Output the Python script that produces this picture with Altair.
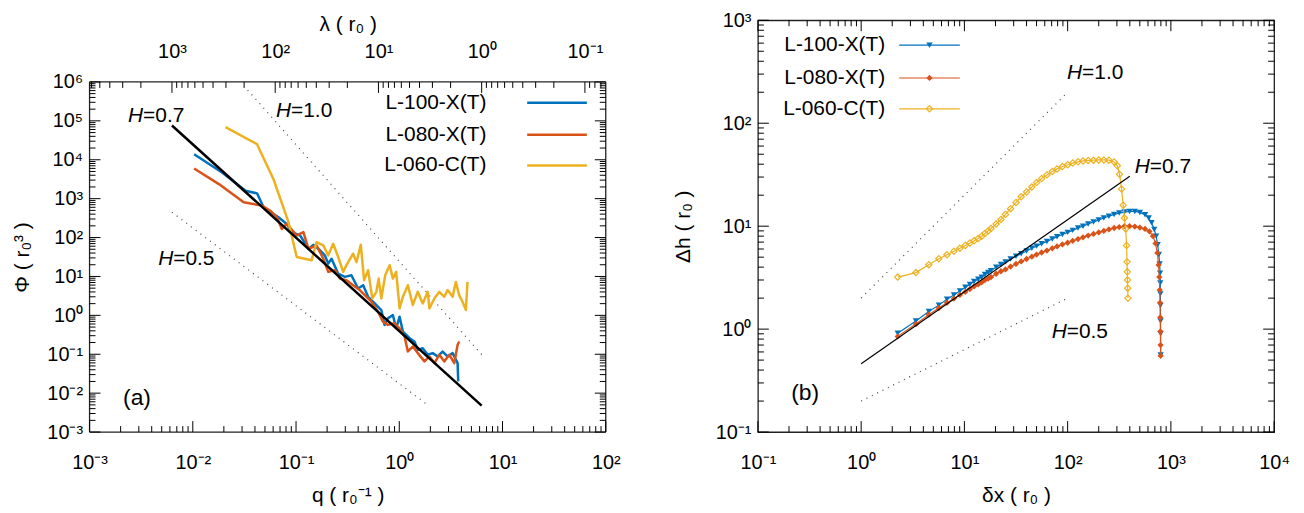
import altair as alt
import pandas as pd

FONT = "Liberation Sans"
BLUE, ORANGE, YELLOW = "#0072BD", "#D95319", "#EDB120"
NAMES = ["L-100-X(T)", "L-080-X(T)", "L-060-C(T)"]
COLORS = [BLUE, ORANGE, YELLOW]

# ---------------- panel (a): power spectral density ----------------
a_blue_q = [0.0103, 0.0192, 0.0324, 0.0419, 0.0485, 0.0676, 0.0813, 0.091, 0.1096, 0.132, 0.147, 0.171, 0.19,
            0.205, 0.221, 0.256, 0.297, 0.344, 0.399, 0.447, 0.499, 0.578, 0.67, 0.721, 0.776, 0.867, 0.933,
            1.007, 1.084, 1.259, 1.403, 1.51, 1.687, 1.888, 2.109, 2.355, 2.63, 2.938, 3.289, 3.673, 3.724]
a_blue_phi = [1.38e4, 4710, 1600, 1370, 600, 331, 224, 138, 113, 51, 65, 47, 35,
              21.4, 28.6, 11.8, 9.75, 10.7, 4.9, 5.97, 3.0, 2.02, 1.37, 0.568, 0.836, 1.02, 0.465,
              0.925, 0.382, 0.258, 0.212, 0.13, 0.143, 0.097, 0.107, 0.0877, 0.117, 0.0877, 0.107, 0.0592, 0.0201]

a_orange_q = [0.0103, 0.0179, 0.0311, 0.0468, 0.0562, 0.0652, 0.0728, 0.0813, 0.1016, 0.1178, 0.132, 0.158,
              0.1837, 0.205, 0.2377, 0.266, 0.308, 0.357, 0.414, 0.4634, 0.537, 0.622, 0.695, 0.776, 0.902,
              1.007, 1.125, 1.211, 1.352, 1.51, 1.754, 1.959, 2.188, 2.443, 2.729, 3.048, 3.412, 3.673, 3.81]
a_orange_phi = [5970, 2370, 805, 661, 490, 331, 166, 224, 113, 138, 51, 63,
                28.6, 13.1, 14.5, 8.81, 8.02, 5.97, 4.46, 3.31, 2.24, 1.24, 0.689, 0.568, 0.624,
                0.465, 0.285, 0.118, 0.158, 0.107, 0.0655, 0.0877, 0.0592, 0.097, 0.0655, 0.097, 0.0592, 0.175, 0.212]

a_yellow_q = [0.02075, 0.0419, 0.0605, 0.0845, 0.1016, 0.1416, 0.158, 0.1837, 0.205, 0.229, 0.256, 0.286,
              0.308, 0.357, 0.385, 0.424, 0.456, 0.499, 0.548, 0.6, 0.631, 0.67, 0.731, 0.807, 0.867, 0.933,
              1.007, 1.084, 1.211, 1.352, 1.51, 1.687, 1.888, 1.959, 2.188, 2.443, 2.729, 2.938, 3.289, 3.532,
              3.802, 4.1, 4.416, 4.581]
a_yellow_phi = [69200, 25100, 3160, 248, 31.6, 26.1, 75.9, 63.1, 34.9, 69.2, 31.6, 13.1,
                19.5, 38.5, 23.4, 65.3, 8.02, 14.5, 2.72, 4.03, 8.81, 2.72, 10.7, 19.5, 8.81, 13.1,
                1.51, 3.0, 5.97, 1.84, 4.03, 2.02, 4.03, 1.51, 2.72, 4.03, 3.0, 4.46, 3.0, 7.24,
                3.31, 2.24, 1.37, 7.24]

a_fit07_q, a_fit07_phi = [0.00628, 6.28], [7.6e4, 4.8e-3]
a_h10_q, a_h10_phi = [0.034, 6.28], [6.2e5, 0.098]
a_h05_q, a_h05_phi = [0.00628, 1.85], [447, 5.15e-3]

a_lab_q = [0.0033, 0.0895, 0.00646]
a_lab_phi = [1.32e5, 1.78e5, 27.5]
a_lab_val = ["=0.7", "=1.0", "=0.5"]
a_tag = ("(a)", 0.00288, 7.6e-3)

# ---------------- panel (b): height difference ----------------
b_blue_dx = [2.26, 3.39, 4.52, 5.65, 6.78, 7.91, 9.04, 10.2, 11.3, 12.4, 13.6, 14.7, 15.8, 17.0, 18.1, 20.3,
             22.6, 25, 28, 31.6, 35.5, 40, 45, 50, 56, 63, 71, 79, 89, 100, 112, 126, 141, 158, 178, 200,
             224, 251, 282, 316, 355, 398, 447, 501, 562, 610, 650, 690, 720, 745, 765, 778, 786, 790, 792,
             793, 794, 795, 796]
b_blue_dh = [0.91, 1.2, 1.48, 1.71, 1.95, 2.15, 2.35, 2.55, 2.72, 2.9, 3.05, 3.2, 3.4, 3.55, 3.7, 4.0,
             4.25, 4.5, 4.8, 5.1, 5.4, 5.75, 6.1, 6.4, 6.75, 7.1, 7.5, 7.9, 8.3, 8.7, 9.1, 9.6, 10.0, 10.5, 11.0, 11.5,
             12.0, 12.5, 13.0, 13.4, 13.7, 13.9, 13.9, 13.6, 12.9, 12.0, 10.8, 9.3, 8.0, 6.6, 5.3, 4.3, 3.5, 2.8, 2.2,
             1.7, 1.2, 0.9, 0.56]

b_orange_dx = [2.26, 3.39, 4.52, 5.65, 6.78, 7.91, 9.04, 10.2, 11.3, 12.4, 13.6, 14.7, 15.8, 17.0, 18.1, 20.3,
               22.6, 25, 28, 31.6, 35.5, 40, 45, 50, 56, 63, 71, 79, 89, 100, 112, 126, 141, 158, 178, 200,
               224, 251, 282, 316, 355, 398, 447, 501, 562, 620, 670, 710, 740, 760, 772, 780, 785, 789, 792,
               794, 796]
b_orange_dh = [0.85, 1.12, 1.38, 1.6, 1.8, 1.98, 2.15, 2.3, 2.45, 2.6, 2.72, 2.85, 3.0, 3.1, 3.2, 3.45,
               3.65, 3.8, 4.05, 4.3, 4.55, 4.8, 5.05, 5.3, 5.55, 5.8, 6.1, 6.35, 6.65, 6.9, 7.2, 7.5, 7.8, 8.1, 8.4, 8.7,
               9.0, 9.3, 9.6, 9.8, 10.0, 10.0, 9.9, 9.7, 9.4, 8.9, 8.0, 6.8, 5.5, 4.2, 3.2, 2.4, 1.8, 1.3, 0.95,
               0.7, 0.55]

b_yellow_dx = [2.26, 3.39, 4.52, 5.65, 6.78, 7.91, 9.04, 10.2, 11.3, 12.4, 13.6, 14.7, 15.8, 17.0, 18.1, 20.3,
               22.6, 25, 28, 31.6, 35.5, 40, 45, 50, 56, 63, 71, 79, 89, 100, 112, 126, 141, 158, 178, 200,
               224, 251, 282, 303, 318, 333, 345, 355, 365, 372, 376, 378, 380, 382, 384]
b_yellow_dh = [3.2, 3.54, 4.23, 4.83, 5.28, 5.7, 6.1, 6.5, 6.85, 7.2, 7.6, 8.0, 8.5, 9.0, 9.5, 10.5,
               11.6, 13, 14.8, 17, 19.3, 21.5, 24, 26.5, 29, 31.5, 34, 36, 38, 39.5, 41, 42.2, 43, 43.5, 43.8, 44,
               44, 43.8, 42, 38.6, 32, 23, 16, 12, 9.4, 6.5, 4.5, 3.6, 3.0, 2.5, 2.0]

b_fit07_dx, b_fit07_dh = [1, 400], [0.46, 30.5]
b_h10_dx, b_h10_dh = [1, 100], [2, 200]
b_h05_dx, b_h05_dh = [1, 100], [0.2, 2.0]

b_lab_dx = [138, 625, 98]
b_lab_dh = [308, 37.8, 0.946]
b_lab_val = ["=1.0", "=0.7", "=0.5"]
b_tag = ("(b)", 0.287, 0.24)

# ---------------- layout constants ----------------
W = 519          # plot width of each panel
H = 414          # full group height (panel b plot height)
TOP_A = 62       # panel (a) plot starts this far below the group top
LBL = 20
TXT = 21

SUP = ("'10' + " + "".join(["replace("] * 11) +
       "('' + round(log(datum.value)/LN10))"
       ", '-', '\u207b'), '0', '\u2070'), '1', '\u00b9'), '2', '\u00b2'), '3', '\u00b3')"
       ", '4', '\u2074'), '5', '\u2075'), '6', '\u2076'), '7', '\u2077'), '8', '\u2078'), '9', '\u2079')")


def decades(lo, hi):
    return [10.0 ** e for e in range(lo, hi + 1)]


def minors(lo, hi):
    return [k * 10.0 ** e for e in range(lo, hi) for k in range(2, 10)]


AX = dict(ticks=False, domain=False, grid=False, labelFont=FONT, labelFontSize=LBL, labelColor="black",
          titleFont=FONT, titleFontSize=21, titleFontWeight="normal", titleColor="black", labelExpr=SUP,
          labelFlush=False, labelOverlap=False)


def frame_ticks(XE, YE, major, minor, sides, top, bottom):
    out = []
    for vals, L in ((major, 11), (minor, 6)):
        for side in sides:
            if side in ("bottom", "top"):
                df = pd.DataFrame({"x": vals})
                enc = dict(x=XE())
                if side == "bottom":
                    enc.update(y=alt.value(bottom), y2=alt.value(bottom - L))
                else:
                    enc.update(y=alt.value(top), y2=alt.value(top + L))
            else:
                df = pd.DataFrame({"y": vals})
                enc = dict(y=YE())
                if side == "left":
                    enc.update(x=alt.value(0), x2=alt.value(L))
                else:
                    enc.update(x=alt.value(W), x2=alt.value(W - L))
            out.append(alt.Chart(df).mark_rule(color="black", strokeWidth=1).encode(**enc))
    return out


def h_labels(qs, ps, vals, XE, YE):
    df = pd.DataFrame({"x": qs, "y": ps, "v": vals, "h": ["H"] * len(vals)})
    h = alt.Chart(df).mark_text(align="right", baseline="middle", fontSize=TXT, fontStyle="italic",
                                 font=FONT, color="black").encode(x=XE(), y=YE(), text="h:N")
    v = alt.Chart(df).mark_text(align="left", baseline="middle", fontSize=TXT, font=FONT,
                                 color="black").encode(x=XE(), y=YE(), text="v:N")
    return [h, v]


def legend_rows(x_text, x0, x1, ys_px, markers=None):
    out = []
    for i, (name, col, yp) in enumerate(zip(NAMES, COLORS, ys_px)):
        df = pd.DataFrame({"t": [name]})
        out.append(alt.Chart(df).mark_text(align="right", baseline="middle", fontSize=TXT, font=FONT,
                                           color="black").encode(x=alt.value(x_text), y=alt.value(yp), text="t:N"))
        strokew = 2.5 if markers is None else 1.2
        out.append(alt.Chart(df).mark_rule(color=col, strokeWidth=strokew).encode(
            x=alt.value(x0), x2=alt.value(x1), y=alt.value(yp)))
        if markers is not None:
            shape, filled = markers[i]
            out.append(alt.Chart(df).mark_point(shape=shape, filled=filled, color=col, size=40,
                                                strokeWidth=1.2, opacity=1).encode(
                x=alt.value((x0 + x1) / 2), y=alt.value(yp)))
    return out


# ---------------- build panel (a) ----------------
xs_a = alt.Scale(type="log", domain=[1e-3, 1e2], nice=False)
ys_a = alt.Scale(type="log", domain=[1e-3, 1e6], nice=False, range=[H, TOP_A])
xaxis_a = alt.Axis(values=decades(-3, 2), title="q ( r\u2080\u207b\u00b9 )", labelPadding=21, titlePadding=12, **AX)
yaxis_a = alt.Axis(values=decades(-3, 6), title="\u03a6 ( r\u2080\u00b3 )", labelPadding=7, titlePadding=14, **AX)
XA = lambda: alt.X("x:Q", scale=xs_a, axis=xaxis_a)
YA = lambda: alt.Y("y:Q", scale=ys_a, axis=yaxis_a)

la = []
# plot frame of panel (a)
fr = pd.DataFrame({"t": ["frame"]})
for enc in (dict(x=alt.value(0), x2=alt.value(W), y=alt.value(TOP_A)),
            dict(x=alt.value(0), x2=alt.value(W), y=alt.value(H)),
            dict(x=alt.value(0), y=alt.value(TOP_A), y2=alt.value(H)),
            dict(x=alt.value(W), y=alt.value(TOP_A), y2=alt.value(H))):
    la.append(alt.Chart(fr).mark_rule(color="#222", strokeWidth=1.3).encode(**enc))
for qv, pv in ((a_h10_q, a_h10_phi), (a_h05_q, a_h05_phi)):
    df = pd.DataFrame({"x": qv, "y": pv})
    la.append(alt.Chart(df).mark_line(color="#444", strokeWidth=1.2, strokeDash=[1, 5])
              .encode(x=XA(), y=YA()))
for qv, pv, col in ((a_blue_q, a_blue_phi, BLUE), (a_orange_q, a_orange_phi, ORANGE),
                    (a_yellow_q, a_yellow_phi, YELLOW)):
    df = pd.DataFrame({"x": qv, "y": pv})
    la.append(alt.Chart(df).mark_line(color=col, strokeWidth=2.5, strokeJoin="round").encode(x=XA(), y=YA()))
df = pd.DataFrame({"x": a_fit07_q, "y": a_fit07_phi})
la.append(alt.Chart(df).mark_line(color="black", strokeWidth=2.5).encode(x=XA(), y=YA()))
la += h_labels(a_lab_q, a_lab_phi, a_lab_val, XA, YA)
df = pd.DataFrame({"x": [a_tag[1]], "y": [a_tag[2]], "t": [a_tag[0]]})
la.append(alt.Chart(df).mark_text(align="center", baseline="middle", fontSize=23, font=FONT, color="black")
          .encode(x=XA(), y=YA(), text="t:N"))
la += legend_rows(399, 440, 500, [TOP_A + 21, TOP_A + 53, TOP_A + 84])
la += frame_ticks(XA, YA, decades(-3, 2), minors(-3, 2), ["bottom"], TOP_A, H)
la += frame_ticks(XA, YA, decades(-3, 6), minors(-3, 6), ["left", "right"], TOP_A, H)
main_a = alt.layer(*la)

# top wavelength axis (lambda = 2*pi/q)
lam_scale = alt.Scale(type="log", domain=[6283.185, 0.0628319], nice=False)
lam_major = [1000, 100, 10, 1, 0.1]
lam_minor = [k * 10.0 ** e for e in range(-2, 4) for k in range(2, 10) if 0.0628319 < k * 10.0 ** e < 6283.185]
lam_axis = alt.Axis(orient="top", values=lam_major, title="\u03bb ( r\u2080 )", labelPadding=21,
                    titlePadding=7, offset=-TOP_A, **AX)
lam_layers = []
for vals, L in ((lam_major, 11), (lam_minor, 6)):
    df = pd.DataFrame({"lam": vals})
    lam_layers.append(alt.Chart(df).mark_rule(color="black", strokeWidth=1).encode(
        x=alt.X("lam:Q", scale=lam_scale, axis=lam_axis), y=alt.value(TOP_A), y2=alt.value(TOP_A + L)))
top_a = alt.layer(*lam_layers)

panel_a = (alt.layer(main_a, top_a).resolve_scale(x="independent")
           .properties(width=W, height=H, view=alt.ViewBackground(stroke="transparent")))

# ---------------- build panel (b) ----------------
xs_b = alt.Scale(type="log", domain=[1e-1, 1e4], nice=False)
ys_b = alt.Scale(type="log", domain=[1e-1, 1e3], nice=False)
xaxis_b = alt.Axis(values=decades(-1, 4), title="\u03b4x ( r\u2080 )", labelPadding=21, titlePadding=12, **AX)
yaxis_b = alt.Axis(values=decades(-1, 3), title="\u0394h ( r\u2080 )", labelPadding=7, titlePadding=22, **AX)
XB = lambda: alt.X("x:Q", scale=xs_b, axis=xaxis_b)
YB = lambda: alt.Y("y:Q", scale=ys_b, axis=yaxis_b)

lb = []
for xv, yv in ((b_h10_dx, b_h10_dh), (b_h05_dx, b_h05_dh)):
    df = pd.DataFrame({"x": xv, "y": yv})
    lb.append(alt.Chart(df).mark_line(color="#444", strokeWidth=1.2, strokeDash=[1, 5]).encode(x=XB(), y=YB()))
MARK = [("triangle-down", True), ("diamond", True), ("diamond", False)]
for (xv, yv, col), (shape, filled) in zip(((b_blue_dx, b_blue_dh, BLUE), (b_orange_dx, b_orange_dh, ORANGE),
                                           (b_yellow_dx, b_yellow_dh, YELLOW)), MARK):
    df = pd.DataFrame({"x": xv, "y": yv})
    lb.append(alt.Chart(df).mark_line(color=col, strokeWidth=1.2).encode(x=XB(), y=YB()))
    lb.append(alt.Chart(df).mark_point(shape=shape, filled=filled, color=col, size=40, strokeWidth=1.2,
                                       opacity=1).encode(x=XB(), y=YB()))
df = pd.DataFrame({"x": b_fit07_dx, "y": b_fit07_dh})
lb.append(alt.Chart(df).mark_line(color="black", strokeWidth=1.2).encode(x=XB(), y=YB()))
lb += h_labels(b_lab_dx, b_lab_dh, b_lab_val, XB, YB)
df = pd.DataFrame({"x": [b_tag[1]], "y": [b_tag[2]], "t": [b_tag[0]]})
lb.append(alt.Chart(df).mark_text(align="center", baseline="middle", fontSize=23, font=FONT, color="black")
          .encode(x=XB(), y=YB(), text="t:N"))
lb += legend_rows(128, 142, 203, [25, 58, 89], MARK)
lb += frame_ticks(XB, YB, decades(-1, 4), minors(-1, 4), ["bottom", "top"], 0, H)
lb += frame_ticks(XB, YB, decades(-1, 3), minors(-1, 3), ["left", "right"], 0, H)
panel_b = alt.layer(*lb).properties(width=W, height=H, view=alt.ViewBackground(stroke="#222", strokeWidth=1.3))

chart = (alt.hconcat(panel_a, panel_b, spacing=51)
         .properties(padding={"left": 3, "top": 0, "right": 5, "bottom": 0})
         .configure(font=FONT, background="white"))

chart.save("out.html", embed_options={"renderer": "svg", "actions": False})
